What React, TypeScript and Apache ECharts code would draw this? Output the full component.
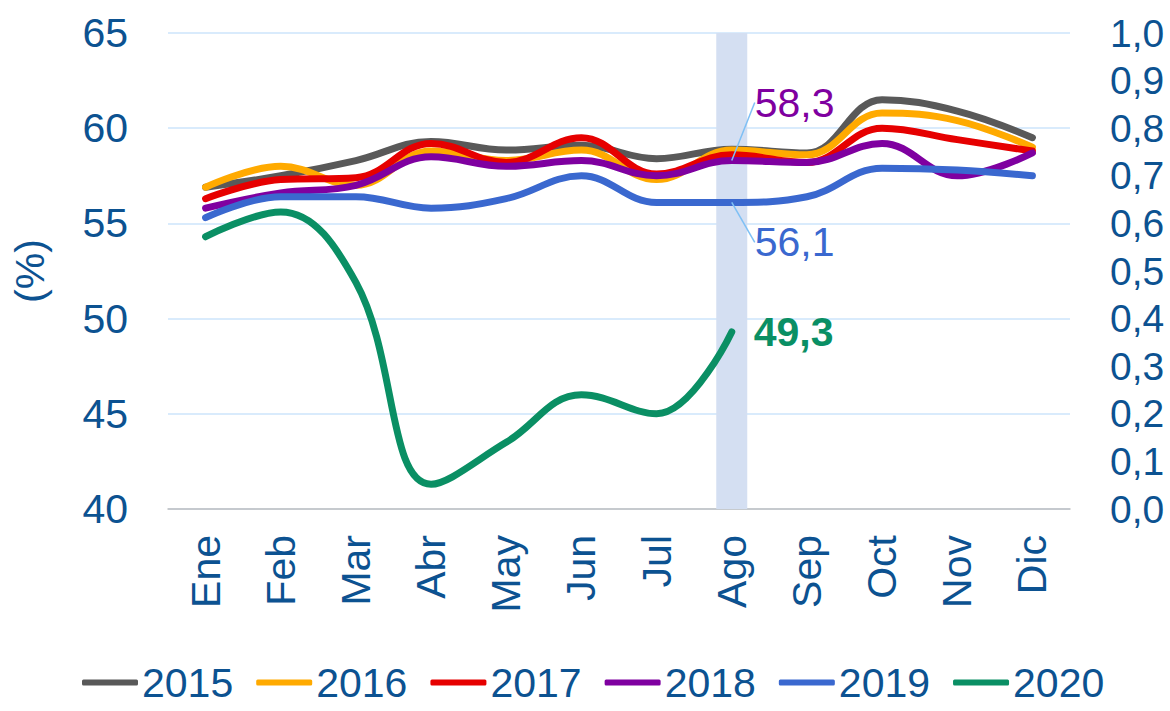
import React, { useEffect, useRef } from "react";
import * as echarts from "echarts";

const months = ["Ene", "Feb", "Mar", "Abr", "May", "Jun", "Jul", "Ago", "Sep", "Oct", "Nov", "Dic"];
const years = ["2015", "2016", "2017", "2018", "2019", "2020"];
const colors = ["#595959", "#FFAA00", "#E60000", "#7F00A0", "#3A68CF", "#0A8F64"];

const s2015 = [56.9, 57.5, 58.3, 59.3, 58.85, 59.1, 58.4, 58.9, 58.7, 61.5, 60.9, 59.5];
const s2016 = [56.9, 58.0, 57.0, 58.8, 58.3, 58.85, 57.3, 58.85, 58.6, 60.8, 60.4, 59.0];
const s2017 = [56.3, 57.3, 57.4, 59.2, 58.2, 59.5, 57.6, 58.6, 58.2, 60.0, 59.4, 58.8];
const s2018 = [55.8, 56.6, 57.0, 58.5, 58.0, 58.3, 57.5, 58.3, 58.2, 59.2, 57.5, 58.7];
const s2019 = [55.3, 56.4, 56.4, 55.8, 56.3, 57.5, 56.1, 56.1, 56.4, 57.9, 57.8, 57.5];
const s2020 = [54.3, 55.6, 51.9, 41.3, 43.5, 46.0, 45.0, 49.3, null, null, null, null];
const highlight = [null, null, null, null, null, null, null, 1, null, null, null, null];

const leftTicks = { min: 40, max: 65, interval: 5 };
const rightTicks = { min: 0, max: 1, interval: 0.1 };

const TXT = "#0C5291";
const FONT = "Liberation Sans, Arial, sans-serif";

export default function App() {
  const ref = useRef<HTMLDivElement>(null);
  useEffect(() => {
    if (!ref.current) return;
    const chart = echarts.init(ref.current, undefined, { renderer: "svg" });
    const all = [s2015, s2016, s2017, s2018, s2019, s2020];
    const labelIdx = 7;
    const mkData = (arr: (number | null)[], i: number) =>
      arr.map((v, k) => {
        if (k !== labelIdx) return v;
        if (i === 3 || i === 4) {
          return {
            value: v,
            label: {
              show: true,
              position: "right",
              distance: 5,
              formatter: (p: any) => String(p.value).replace(".", ","),
              color: colors[i],
              fontSize: 41,
              fontFamily: FONT,
            },
          };
        }
        if (i === 5) {
          return {
            value: v,
            label: {
              show: true,
              position: "right",
              distance: 22,
              formatter: (p: any) => String(p.value).replace(".", ","),
              color: colors[i],
              fontSize: 41,
              fontWeight: "bold",
              fontFamily: FONT,
            },
          };
        }
        return v;
      });
    const lineSeries = all.map((arr, i) => ({
      name: years[i],
      type: "line",
      data: mkData(arr, i),
      smooth: 0.4,
      showSymbol: true,
      symbol: "circle",
      symbolSize: 0,
      lineStyle: { width: 7, color: colors[i], cap: "round", join: "round" },
      itemStyle: { color: colors[i] },
      z: 3,
      labelLine:
        i === 3 || i === 4
          ? { show: true, length2: 22, lineStyle: { color: "#7EC0F5", width: 1.5 } }
          : { show: false },
      labelLayout: i === 3 ? { dx: 18, dy: -58 } : i === 4 ? { dx: 18, dy: 40 } : undefined,
    }));
    chart.setOption({
      animation: false,
      textStyle: { fontFamily: FONT },
      grid: { left: 168, right: 100, top: 33, bottom: 202, containLabel: false },
      legend: {
        data: years,
        bottom: 3,
        left: 77,
        icon: "roundRect",
        itemWidth: 56,
        itemHeight: 6,
        itemGap: 23,
        textStyle: { color: TXT, fontSize: 41, fontFamily: FONT, padding: [0, 0, 0, -1] },
      },
      xAxis: {
        type: "category",
        data: months,
        boundaryGap: true,
        axisLine: { lineStyle: { color: "#BFBFBF", width: 1.5 } },
        axisTick: { show: false },
        axisLabel: { rotate: 90, color: TXT, fontSize: 41, margin: 26, fontFamily: FONT },
      },
      yAxis: [
        {
          type: "value",
          ...leftTicks,
          name: "(%)",
          nameLocation: "middle",
          nameGap: 118,
          nameRotate: 90,
          nameTextStyle: { color: TXT, fontSize: 41, fontFamily: FONT },
          axisLine: { show: false },
          axisTick: { show: false },
          axisLabel: { color: TXT, fontSize: 41, margin: 40, fontFamily: FONT },
          splitLine: { lineStyle: { color: "#CDE5FB", width: 1.5 } },
        },
        {
          type: "value",
          ...rightTicks,
          position: "right",
          axisLine: { show: false },
          axisTick: { show: false },
          splitLine: { show: false },
          axisLabel: {
            color: TXT,
            fontSize: 39,
            margin: 40,
            fontFamily: FONT,
            formatter: (v: number) => v.toFixed(1).replace(".", ","),
          },
        },
      ],
      series: [
        {
          name: "band",
          type: "bar",
          yAxisIndex: 1,
          data: highlight,
          barWidth: 31,
          silent: true,
          itemStyle: { color: "#D4DFF2" },
          z: 1,
        },
        ...lineSeries,
      ],
    });
    return () => chart.dispose();
  }, []);
  return <div ref={ref} style={{ width: 1170, height: 711, position: "absolute", left: 0, top: 0 }} />;
}
